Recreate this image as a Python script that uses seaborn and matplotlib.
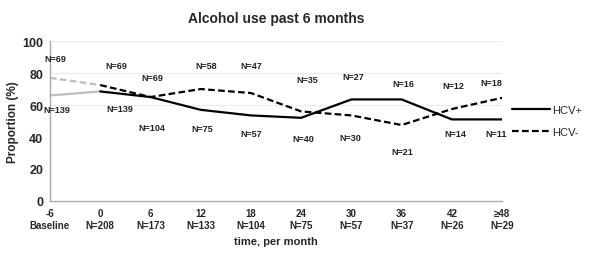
import pandas as pd
import numpy as np
import matplotlib
matplotlib.use("Agg")
import matplotlib.pyplot as plt
import seaborn as sns

# values
months = [0, 6, 12, 18, 24, 30, 36, 42, 48]
hcv_pos = [68.5, 65, 57, 53.5, 52, 63.5, 63.5, 51, 51]
hcv_neg = [72.5, 65, 70, 67.5, 56, 53.5, 47.5, 57.5, 64.5]
baseline_month = -6
baseline_pos = 66
baseline_neg = 77

tick_months = [-6, 0, 6, 12, 18, 24, 30, 36, 42, 48]
tick_labels = ["-6\nBaseline", "0\nN=208", "6\nN=173", "12\nN=133", "18\nN=104",
               "24\nN=75", "30\nN=57", "36\nN=37", "42\nN=26", "\u226548\nN=29"]

# sample size annotations
n_text = ["N=69", "N=139", "N=69", "N=139", "N=69", "N=104", "N=58", "N=75",
          "N=47", "N=57", "N=35", "N=40", "N=27", "N=30", "N=16", "N=21",
          "N=12", "N=14", "N=18", "N=11"]
n_x = [-5.4, -5.2, 1.9, 2.3, 6.2, 6.2, 12.6, 12.2, 18, 18, 24.7, 24.2,
       30.2, 29.9, 36.2, 36.1, 42.2, 42.4, 46.7, 47.3]
n_y = [89, 57, 85, 58, 77.5, 46, 85, 45.5, 85, 42.5, 76, 39,
       77.7, 40, 73.7, 31, 72, 42.5, 74, 42.5]

df = pd.DataFrame({"month": months * 2,
                   "value": hcv_pos + hcv_neg,
                   "group": ["HCV+"] * len(months) + ["HCV-"] * len(months)})
df_base = pd.DataFrame({"month": [baseline_month, months[0]] * 2,
                        "value": [baseline_pos, hcv_pos[0], baseline_neg, hcv_neg[0]],
                        "group": ["HCV+", "HCV+", "HCV-", "HCV-"]})

sns.set_style("white")
plt.rcParams["font.family"] = ["Liberation Sans", "DejaVu Sans"]

fig = plt.figure(figsize=(5.91, 2.55), dpi=100)
ax = fig.add_axes([0.0846, 0.208, 0.765, 0.627])

for yv in [60, 80, 100]:
    ax.axhline(yv, color="#ebebeb", lw=1, zorder=0)

sns.lineplot(data=df_base, x="month", y="value", style="group",
             style_order=["HCV+", "HCV-"], dashes={"HCV+": "", "HCV-": (3, 1.5)},
             color="#bdbdbd", lw=1.6, legend=False, ax=ax)
sns.lineplot(data=df, x="month", y="value", style="group",
             style_order=["HCV+", "HCV-"], dashes={"HCV+": "", "HCV-": (3, 1.5)},
             color="black", lw=1.6, ax=ax)

for t, x, y in zip(n_text, n_x, n_y):
    ax.text(x, y, t, ha="center", va="center", fontsize=6.5, fontweight="bold",
            color="#222222")

ax.set_xlim(-6, 48)
ax.set_ylim(0, 100)
ax.set_xticks(tick_months)
ax.set_xticklabels(tick_labels, fontsize=7, fontweight="bold", linespacing=1.2)
ax.set_yticks([0, 20, 40, 60, 80, 100])
ax.set_yticklabels(["0", "20", "40", "60", "80", "100"], fontsize=9, fontweight="bold")
ax.tick_params(axis="both", length=3, width=0.8, color="#aaaaaa", pad=2)
ax.set_xlabel("time, per month", fontsize=8, fontweight="bold", labelpad=5)
ax.set_ylabel("Proportion (%)", fontsize=8.5, fontweight="bold", labelpad=2)
ax.set_title("Alcohol use past 6 months", fontsize=10, fontweight="bold", pad=14)

sns.despine(ax=ax)
for s in ["left", "bottom"]:
    ax.spines[s].set_color("#aaaaaa")
    ax.spines[s].set_linewidth(1)

ax.legend(loc="center left", bbox_to_anchor=(1.0, 0.5), frameon=False,
          fontsize=8, handlelength=3.4, handletextpad=0.2, labelspacing=1.1)

fig.savefig("out.png", dpi=100)
